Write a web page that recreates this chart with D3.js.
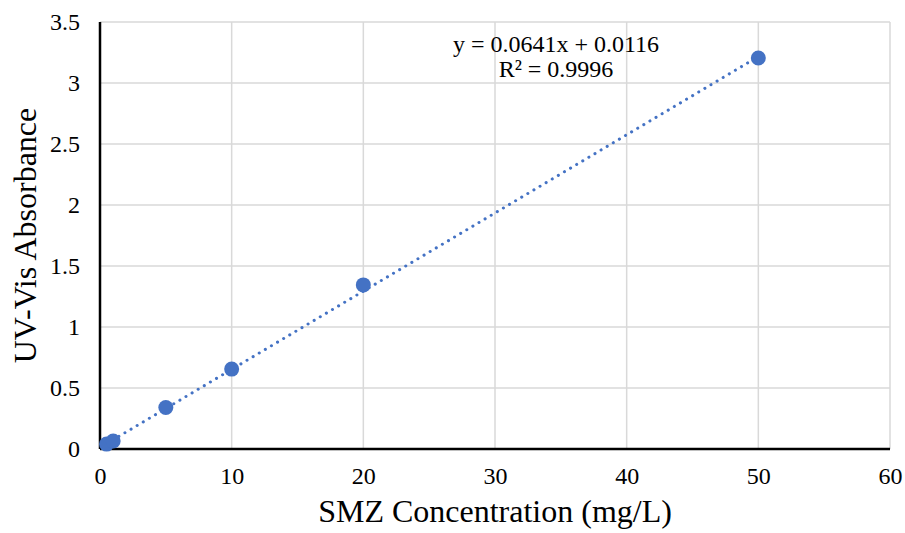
<!DOCTYPE html>
<html>
<head>
<meta charset="utf-8">
<script src="https://cdn.jsdelivr.net/npm/d3@7"></script>
<style>
  body { margin: 0; background: #fff; }
  text { font-family: "Liberation Serif", "Times New Roman", serif; fill: #000; }
</style>
</head>
<body>
<div id="chart"></div>
<script>
const concentration = [0.5, 1, 5, 10, 20, 50];
const absorbance = [0.04, 0.065, 0.34, 0.655, 1.345, 3.205];
const xTicks = [0, 10, 20, 30, 40, 50, 60];
const yTicks = [0, 0.5, 1, 1.5, 2, 2.5, 3, 3.5];
const slope = 0.0641, intercept = 0.0116;

const W = 905, H = 533;
const margin = { top: 22, right: 15, bottom: 84, left: 100 };
const width = W - margin.left - margin.right,
      height = H - margin.top - margin.bottom;

const svg = d3.select("#chart").append("svg")
    .attr("width", W)
    .attr("height", H);
const g = svg.append("g")
    .attr("transform", `translate(${margin.left},${margin.top})`);

const x = d3.scaleLinear().domain([0, 60]).range([0, width]);
const y = d3.scaleLinear().domain([0, 3.5]).range([height, 0]);

// grid
g.append("g").selectAll("line").data(xTicks.slice(1)).join("line")
    .attr("x1", d => x(d)).attr("x2", d => x(d))
    .attr("y1", 0).attr("y2", height)
    .attr("stroke", "#d9d9d9").attr("stroke-width", 1.5);
g.append("g").selectAll("line").data(yTicks.slice(1)).join("line")
    .attr("x1", 0).attr("x2", width)
    .attr("y1", d => y(d)).attr("y2", d => y(d))
    .attr("stroke", "#d9d9d9").attr("stroke-width", 1.5);

// axes
const xAxis = g.append("g")
    .attr("transform", `translate(0,${height})`)
    .call(d3.axisBottom(x).tickValues(xTicks).tickSize(0).tickPadding(18));
const yAxis = g.append("g")
    .call(d3.axisLeft(y).tickValues(yTicks).tickSize(0).tickPadding(20)
      .tickFormat(d => d));
[xAxis, yAxis].forEach(a => {
  a.attr("font-size", null).attr("font-family", null);
  a.select(".domain").attr("stroke", "#000").attr("stroke-width", 2.5);
  a.selectAll("text").style("font-size", "24px");
});
// only left and bottom domain lines
xAxis.select(".domain").attr("d", `M0,0H${width}`);
yAxis.select(".domain").attr("d", `M0,0V${height}`);

// trendline
const xs = d3.extent(concentration);
g.append("line")
    .attr("x1", x(xs[0])).attr("y1", y(slope * xs[0] + intercept))
    .attr("x2", x(xs[1])).attr("y2", y(slope * xs[1] + intercept))
    .attr("stroke", "#4472c4").attr("stroke-width", 3)
    .attr("stroke-linecap", "round")
    .attr("stroke-dasharray", "0.1 7");

// points
g.selectAll("circle").data(concentration).join("circle")
    .attr("cx", d => x(d))
    .attr("cy", (d, i) => y(absorbance[i]))
    .attr("r", 7.5)
    .attr("fill", "#4472c4");

// equation
g.append("text")
    .attr("x", 456).attr("y", 30)
    .attr("text-anchor", "middle")
    .style("font-size", "24px")
    .text("y = 0.0641x + 0.0116");
g.append("text")
    .attr("x", 456).attr("y", 55)
    .attr("text-anchor", "middle")
    .style("font-size", "24px")
    .text("R² = 0.9996");

// axis titles
svg.append("text")
    .attr("x", margin.left + width / 2).attr("y", 522)
    .attr("text-anchor", "middle")
    .style("font-size", "32px")
    .text("SMZ Concentration (mg/L)");
svg.append("text")
    .attr("transform", `translate(36,${margin.top + height / 2}) rotate(-90)`)
    .attr("text-anchor", "middle")
    .style("font-size", "32px")
    .text("UV-Vis Absorbance");
</script>
</body>
</html>
